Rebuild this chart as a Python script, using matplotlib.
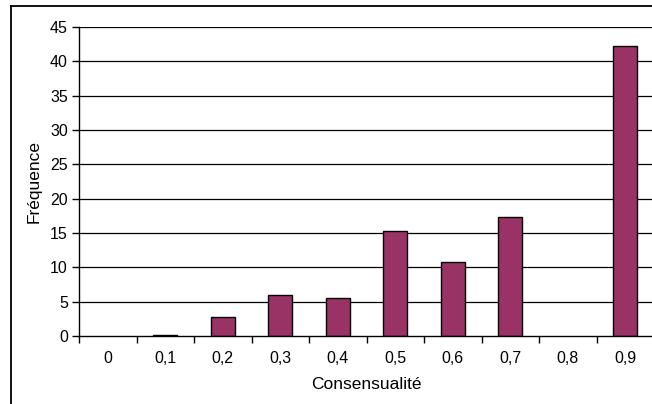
import matplotlib
matplotlib.use("Agg")
import matplotlib.pyplot as plt
from matplotlib.lines import Line2D
import numpy as np

categories = ["0", "0,1", "0,2", "0,3", "0,4", "0,5", "0,6", "0,7", "0,8", "0,9"]
frequences = [0, 0.15, 2.8, 6.0, 5.5, 15.3, 10.8, 17.3, 0, 42.2]
y_ticks = [0, 5, 10, 15, 20, 25, 30, 35, 40, 45]

plt.rcParams['font.family'] = ['Liberation Sans', 'DejaVu Sans']

W, H = 652, 404
fig = plt.figure(figsize=(W / 100, H / 100), dpi=100)

# outer frame
fig.add_artist(Line2D([11 / W, 1], [1 - 6 / H, 1 - 6 / H], color='black', lw=1.3, transform=fig.transFigure))
fig.add_artist(Line2D([11 / W, 11 / W], [0, 1 - 6 / H], color='black', lw=1.3, transform=fig.transFigure))

left, right = 79 / W, 654 / W
bottom, top = 1 - 336 / H, 1 - 27 / H
ax = fig.add_axes([left, bottom, right - left, top - bottom])

x = np.arange(len(categories))
vals = np.array(frequences, dtype=float)
mask = vals > 0
ax.bar(x[mask], vals[mask], width=0.41, color='#993366', edgecolor='black', linewidth=1.0, zorder=3)

ax.set_xlim(-0.5, len(categories) - 0.5)
ax.set_ylim(0, 45)
ax.set_yticks(y_ticks)
ax.set_yticklabels([str(v) for v in y_ticks], fontsize=11.5)
for v in y_ticks[1:]:
    ax.axhline(v, color='black', lw=0.9, zorder=1)

ax.set_xticks(x)
ax.set_xticklabels(categories, fontsize=11.5)
ax.set_xticks(np.arange(-0.5, len(categories), 1), minor=True)
ax.tick_params(axis='x', which='major', length=0, pad=11)
ax.tick_params(axis='x', which='minor', length=5, width=1, direction='out')
ax.tick_params(axis='y', length=5, width=1, direction='out', pad=3)

for s in ['top', 'right']:
    ax.spines[s].set_visible(False)
ax.spines['left'].set_linewidth(1)
ax.spines['bottom'].set_linewidth(1)
ax.spines['bottom'].set_zorder(4)

ax.set_xlabel('Consensualité', fontsize=12.5, labelpad=8)
ax.set_ylabel('Fréquence', fontsize=12.5, labelpad=6)

fig.savefig('out.png', dpi=100)
